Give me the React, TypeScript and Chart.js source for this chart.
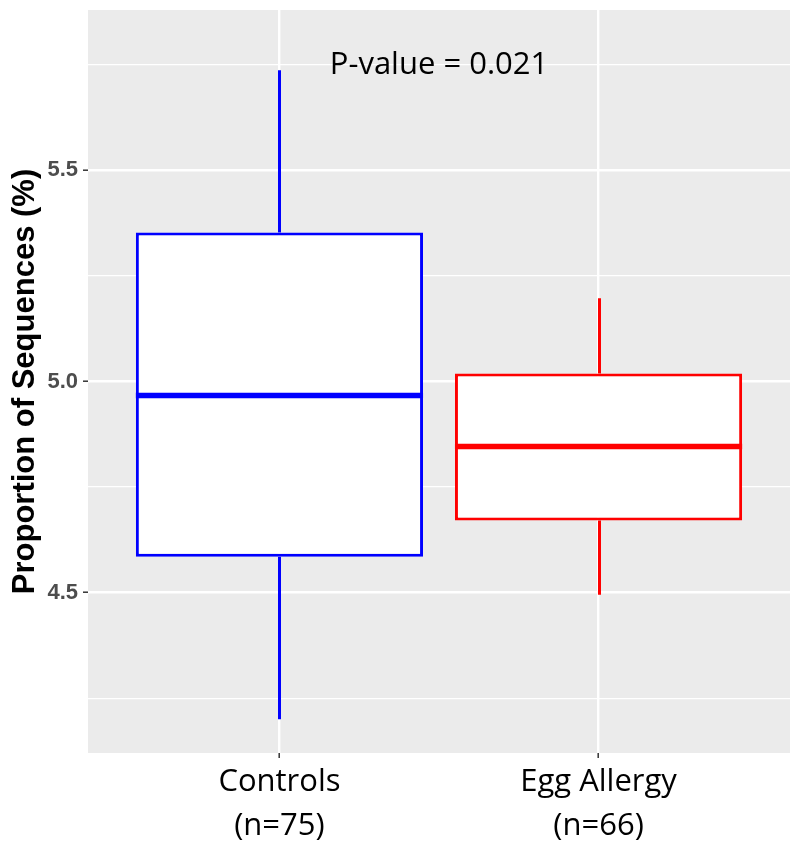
import { useEffect, useRef } from 'react';
import { Chart, registerables } from 'chart.js';

Chart.register(...registerables);

const categories = ['Controls', 'Egg Allergy'];
const sampleSizes = ['(n=75)', '(n=66)'];
const categoryPositions = [1, 2];
const whiskerLow = [4.2, 4.495];
const q1 = [4.585, 4.671];
const median = [4.967, 4.846];
const q3 = [5.353, 5.019];
const whiskerHigh = [5.737, 5.197];
const boxColors = ['#0000FF', '#FF0000'];
const majorTicks = [4.5, 5.0, 5.5];
const minorTicks = [4.25, 4.75, 5.25, 5.75];
const yRange = [4.12, 5.88];
const xRange = [0.4, 2.6];
const annotationText = 'P-value = 0.021';
const annotationPos = [1.5, 5.75];
const yTitle = 'Proportion of Sequences (%)';

const boxPlugin = {
  id: 'boxExtras',
  beforeDraw(chart: any) {
    const { ctx, chartArea } = chart;
    ctx.save();
    ctx.fillStyle = '#EBEBEB';
    ctx.fillRect(chartArea.left, chartArea.top, chartArea.right - chartArea.left, chartArea.bottom - chartArea.top);
    ctx.restore();
  },
  beforeDatasetsDraw(chart: any) {
    const { ctx } = chart;
    const xs = chart.scales.x;
    const ys = chart.scales.y;
    ctx.save();
    ctx.lineWidth = 3;
    ctx.lineCap = 'butt';
    categoryPositions.forEach((pos, i) => {
      const x = Math.round(xs.getPixelForValue(pos)) + 0.5;
      ctx.strokeStyle = boxColors[i];
      ctx.beginPath();
      ctx.moveTo(x, ys.getPixelForValue(whiskerHigh[i]));
      ctx.lineTo(x, ys.getPixelForValue(q3[i]));
      ctx.moveTo(x, ys.getPixelForValue(q1[i]));
      ctx.lineTo(x, ys.getPixelForValue(whiskerLow[i]));
      ctx.stroke();
    });
    ctx.restore();
  },
  afterDatasetsDraw(chart: any) {
    const { ctx } = chart;
    const xs = chart.scales.x;
    const ys = chart.scales.y;
    const meta = chart.getDatasetMeta(0);
    ctx.save();
    categoryPositions.forEach((pos, i) => {
      const el = meta.data[i];
      const half = el.width / 2;
      const y = ys.getPixelForValue(median[i]);
      ctx.strokeStyle = boxColors[i];
      ctx.lineWidth = 5.5;
      ctx.beginPath();
      ctx.moveTo(el.x - half, y);
      ctx.lineTo(el.x + half, y);
      ctx.stroke();
    });
    ctx.fillStyle = '#000000';
    ctx.font = '31px "Open Sans"';
    ctx.textAlign = 'center';
    ctx.textBaseline = 'middle';
    ctx.fillText(annotationText, xs.getPixelForValue(annotationPos[0]), ys.getPixelForValue(annotationPos[1]));
    ctx.restore();
  },
};

export default function App() {
  const canvasRef = useRef<HTMLCanvasElement | null>(null);

  useEffect(() => {
    document.body.style.margin = '0';
    const canvas = canvasRef.current;
    if (!canvas) return;
    const chart = new Chart(canvas, {
      type: 'bar',
      data: {
        datasets: [
          {
            data: categoryPositions.map((pos, i) => ({ x: pos, y: [q1[i], q3[i]] })) as any,
            backgroundColor: '#FFFFFF',
            borderColor: boxColors,
            borderWidth: 3,
            borderSkipped: false,
            barPercentage: 0.9,
            categoryPercentage: 1.0,
          },
        ],
      },
      options: {
        animation: false,
        responsive: false,
        layout: { padding: { top: 10, right: 10, left: 0, bottom: 0 } },
        plugins: {
          legend: { display: false },
          tooltip: { enabled: false },
        },
        scales: {
          x: {
            type: 'linear',
            min: xRange[0],
            max: xRange[1],
            offset: false,
            afterBuildTicks: (scale: any) => {
              scale.ticks = categoryPositions.map((v) => ({ value: v }));
            },
            afterFit: (scale: any) => {
              scale.height = 95;
              scale.paddingLeft = 0;
              scale.paddingRight = 0;
            },
            border: { display: false },
            grid: {
              offset: false,
              color: '#FFFFFF',
              lineWidth: 2.4,
              drawTicks: true,
              tickLength: 5,
              tickColor: '#333333',
              tickWidth: 1.5,
            },
            ticks: {
              autoSkip: false,
              maxRotation: 0,
              padding: 2,
              color: '#000000',
              font: { family: '"Open Sans"', size: 31, lineHeight: 1.42 },
              callback: (value: any) => {
                const i = categoryPositions.indexOf(Number(value));
                return i >= 0 ? [categories[i], sampleSizes[i]] : '';
              },
            },
          },
          y: {
            type: 'linear',
            min: yRange[0],
            max: yRange[1],
            afterBuildTicks: (scale: any) => {
              scale.ticks = [...majorTicks, ...minorTicks].sort((a, b) => a - b).map((v) => ({ value: v }));
            },
            afterFit: (scale: any) => {
              scale.width = 88;
              scale.paddingTop = 0;
              scale.paddingBottom = 0;
            },
            border: { display: false },
            grid: {
              color: '#FFFFFF',
              lineWidth: (c: any) => (majorTicks.includes(c.tick?.value) ? 2.4 : 1.2),
              drawTicks: true,
              tickLength: 5,
              tickColor: (c: any) => (majorTicks.includes(c.tick?.value) ? '#333333' : 'rgba(0,0,0,0)'),
              tickWidth: 1.5,
            },
            ticks: {
              padding: 5,
              color: '#4D4D4D',
              font: { family: '"Liberation Sans"', size: 22, weight: 'bold' },
              callback: (value: any) => (majorTicks.includes(Number(value)) ? Number(value).toFixed(1) : ''),
            },
            title: {
              display: true,
              text: yTitle,
              color: '#000000',
              font: { family: '"Liberation Sans"', size: 31, weight: 'bold' },
              padding: { top: 7, bottom: 0 },
            },
          },
        },
      },
      plugins: [boxPlugin],
    });
    return () => chart.destroy();
  }, []);

  return (
    <div style={{ width: 800, height: 848 }}>
      <canvas ref={canvasRef} width={800} height={848} style={{ display: 'block' }} />
    </div>
  );
}
